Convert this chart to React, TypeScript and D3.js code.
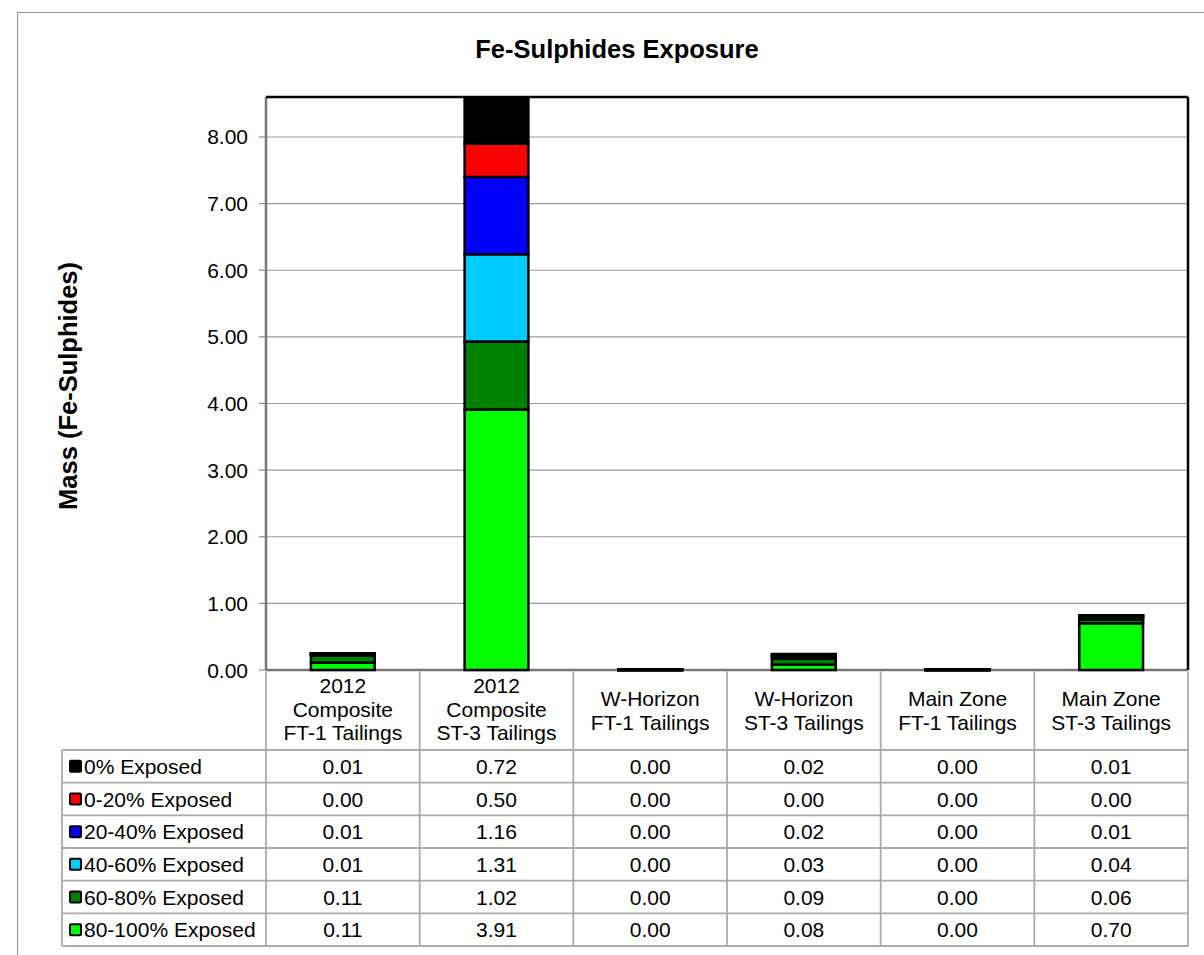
import React from "react";
import * as d3 from "d3";

const categories = [
  ["2012", "Composite", "FT-1 Tailings"],
  ["2012", "Composite", "ST-3 Tailings"],
  ["W-Horizon", "FT-1 Tailings"],
  ["W-Horizon", "ST-3 Tailings"],
  ["Main Zone", "FT-1 Tailings"],
  ["Main Zone", "ST-3 Tailings"],
];
const categoryKeys = categories.map((c) => c.join(" "));

// Series in stacking order (bottom to top)
const seriesNames = [
  "80-100% Exposed",
  "60-80% Exposed",
  "40-60% Exposed",
  "20-40% Exposed",
  "0-20% Exposed",
  "0% Exposed",
];
const seriesColors = ["#00FF00", "#008000", "#00CCFF", "#0000FF", "#FF0000", "#000000"];

const exposed80_100 = [0.11, 3.91, 0.0, 0.08, 0.0, 0.7];
const exposed60_80 = [0.11, 1.02, 0.0, 0.09, 0.0, 0.06];
const exposed40_60 = [0.01, 1.31, 0.0, 0.03, 0.0, 0.04];
const exposed20_40 = [0.01, 1.16, 0.0, 0.02, 0.0, 0.01];
const exposed0_20 = [0.0, 0.5, 0.0, 0.0, 0.0, 0.0];
const exposed0 = [0.01, 0.72, 0.0, 0.02, 0.0, 0.01];

const seriesValues = [exposed80_100, exposed60_80, exposed40_60, exposed20_40, exposed0_20, exposed0];

// table row order (top to bottom)
const tableOrder = [5, 4, 3, 2, 1, 0];

const yTicks = [0, 1, 2, 3, 4, 5, 6, 7, 8];
const yMax = 8.6;

export default function App() {
  const W = 1204;
  const H = 955;
  const left = 266;
  const right = 1188;
  const top = 97;
  const bottom = 670;
  const headerBottom = 750;
  const tableBottom = 946;
  const legendLeft = 62;
  const font = "Liberation Sans, Arial, sans-serif";

  const x = d3.scaleBand<string>().domain(categoryKeys).range([left, right]).padding(0);
  const y = d3.scaleLinear().domain([0, yMax]).range([bottom, top]);
  const rowH = (tableBottom - headerBottom) / tableOrder.length;
  const barW = x.bandwidth() * 0.415;

  const rows = categoryKeys.map((k, i) => {
    const o: any = { key: k };
    seriesNames.forEach((s, j) => (o[s] = seriesValues[j][i]));
    return o;
  });
  const stacked = d3.stack<any>().keys(seriesNames)(rows);
  const fmt = d3.format(".2f");

  return (
    <div style={{ position: "absolute", left: 0, top: 0 }}>
      <svg width={W} height={H} style={{ display: "block", fontFamily: font }}>
        <rect x={0} y={0} width={W} height={H} fill="#fff" />
        <rect x={17.5} y={12.5} width={W} height={H} fill="none" stroke="#999" strokeWidth={1.2} />
        <defs>
          <clipPath id="plotclip">
            <rect x={left} y={top} width={right - left} height={bottom - top + 4} />
          </clipPath>
        </defs>
        <text x={617} y={58} textAnchor="middle" fontSize={25.5} fontWeight="bold">
          Fe-Sulphides Exposure
        </text>
        <text
          transform={`translate(77,386) rotate(-90)`}
          textAnchor="middle"
          fontSize={25.5}
          fontWeight="bold"
        >
          Mass (Fe-Sulphides)
        </text>
        {/* gridlines */}
        {yTicks.map((t) => (
          <g key={t}>
            <line x1={left} x2={right} y1={y(t)} y2={y(t)} stroke="#999" strokeWidth={1.2} />
            <line x1={259} x2={left} y1={y(t)} y2={y(t)} stroke="#888" strokeWidth={1.2} />
            <text x={248} y={y(t) + 7.5} textAnchor="end" fontSize={21}>
              {fmt(t)}
            </text>
          </g>
        ))}
        {/* axes */}
        <line x1={left} x2={left} y1={top} y2={bottom} stroke="#777" strokeWidth={2.5} />
        <line x1={left} x2={right} y1={bottom} y2={bottom} stroke="#777" strokeWidth={2.5} />
        {/* bars */}
        <g clipPath="url(#plotclip)">
          {stacked.map((s, j) =>
            s.map((d, i) => (
              <rect
                key={`${j}-${i}`}
                x={(x(categoryKeys[i]) as number) + (x.bandwidth() - barW) / 2}
                y={y(d[1]) - (d[1] === d[0] ? 0.5 : 0)}
                width={barW}
                height={Math.max(0.5, y(d[0]) - y(d[1]))}
                fill={seriesColors[j]}
                stroke="#000"
                strokeWidth={2.5}
              />
            ))
          )}
        </g>
        {/* plot border */}
        <line x1={left} x2={right} y1={top} y2={top} stroke="#000" strokeWidth={2.5} />
        <line x1={right} x2={right} y1={top} y2={bottom} stroke="#000" strokeWidth={2.5} />

        {/* data table */}
        {categoryKeys.map((k, i) => {
          const cx = (x(k) as number) + x.bandwidth() / 2;
          const lines = categories[i];
          const startY = lines.length === 3 ? 693 : 706;
          return (
            <g key={k}>
              {lines.map((l, li) => (
                <text key={li} x={cx} y={startY + li * 23.5} textAnchor="middle" fontSize={21}>
                  {l}
                </text>
              ))}
            </g>
          );
        })}
        {categoryKeys.map((k) => (
          <line
            key={k}
            x1={x(k) as number}
            x2={x(k) as number}
            y1={bottom + 1.5}
            y2={tableBottom}
            stroke="#aaa"
            strokeWidth={1.8}
          />
        ))}
        <line x1={right} x2={right} y1={bottom + 1.5} y2={tableBottom} stroke="#aaa" strokeWidth={1.8} />
        <line x1={legendLeft} x2={legendLeft} y1={headerBottom} y2={tableBottom} stroke="#aaa" strokeWidth={1.8} />
        {d3.range(tableOrder.length + 1).map((r) => (
          <line
            key={r}
            x1={legendLeft}
            x2={right}
            y1={headerBottom + r * rowH}
            y2={headerBottom + r * rowH}
            stroke="#aaa"
            strokeWidth={1.8}
          />
        ))}
        {tableOrder.map((si, r) => {
          const cy = headerBottom + r * rowH + rowH / 2;
          return (
            <g key={si}>
              <rect x={70} y={cy - 5.5} width={11} height={11} fill={seriesColors[si]} stroke="#000" strokeWidth={2} rx={1} />
              <text x={84} y={cy + 7.5} fontSize={21}>
                {seriesNames[si]}
              </text>
              {categoryKeys.map((k, i) => (
                <text
                  key={k}
                  x={(x(k) as number) + x.bandwidth() / 2}
                  y={cy + 7.5}
                  textAnchor="middle"
                  fontSize={21}
                >
                  {fmt(seriesValues[si][i])}
                </text>
              ))}
            </g>
          );
        })}
      </svg>
    </div>
  );
}
